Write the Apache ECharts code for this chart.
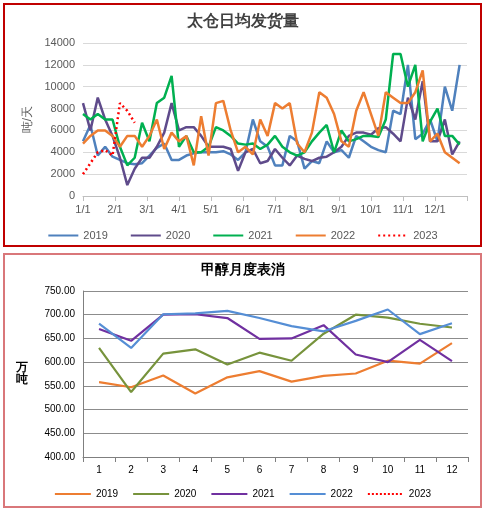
<!DOCTYPE html>
<html><head><meta charset="utf-8">
<script src="https://cdn.jsdelivr.net/npm/echarts@6/dist/echarts.min.js"></script>
<style>
body{margin:0;background:#fff;width:486px;height:513px;position:relative;font-family:"Noto Sans CJK SC",sans-serif}
#c1{position:absolute;left:3px;top:3px;width:475px;height:240px;border:2px solid #c00000}
#c2{position:absolute;left:3px;top:253px;width:475px;height:251px;border:2px solid #d9777a}
</style></head><body>
<div id="c1"></div><div id="c2"></div>
<script>
const years = ['2019','2020','2021','2022','2023'];
const monthTicks = ['1/1','2/1','3/1','4/1','5/1','6/1','7/1','8/1','9/1','10/1','11/1','12/1'];
const w2019 = [5000,6500,3700,4500,3600,3300,3000,2900,3000,3700,4400,4800,3300,3300,3700,3900,4000,4000,4000,4100,3800,3300,4000,7000,5000,4500,2800,2800,5500,5000,2500,3200,3000,5000,4000,4200,3500,5500,5000,4500,4200,4000,7800,7500,12000,5200,5700,7000,5000,10000,7800,12000];
const w2020 = [8500,6000,9000,7000,5500,3500,1000,2500,3500,3500,4500,5800,8500,6000,6300,6300,5500,4500,4500,4500,4300,2300,4000,4300,3000,3200,4300,3500,2800,3700,3400,3200,3500,3600,4000,4500,5500,5800,5800,5600,6200,6300,5700,5000,9000,7000,10500,5000,5000,7000,3800,5000];
const w2021 = [7500,7000,7500,7000,7000,4500,2800,3500,6700,5000,8500,9000,11000,4500,5500,4000,4000,4500,6300,6000,5500,4800,4700,4800,4300,4700,5500,4500,4000,3700,4000,5000,5800,6500,4000,6000,5000,5200,5500,5500,5400,7000,13000,13000,10000,12000,5000,6800,8000,5500,5500,4700];
const w2022 = [4800,5500,6000,6000,5500,4500,5500,5500,4500,5500,7000,4300,5800,5000,5500,2800,7300,3700,8500,8700,6000,4000,4500,3800,7000,5500,8500,8000,8500,4800,4000,5800,9500,9000,7500,5000,4500,7800,9500,7500,5500,9500,9000,8500,8500,9500,11500,5000,5700,4000,3500,3000];
const w2023 = [2000,3000,4000,4200,3700,8500,7800,6700];
const months = ['1','2','3','4','5','6','7','8','9','10','11','12'];
const m2019 = [558,547,572,534,568,581,559,571,576,603,597,640];
const m2020 = [630,537,618,627,595,620,603,660,700,694,681,673];
const m2021 = [670,645,700,701,693,649,650,678,616,600,647,602];
const m2022 = [681,630,701,703,708,693,676,665,687,711,659,682];
const m2023 = [];

const step = 52/12;
const toXY = arr => arr.map((v,i)=>[i,v]);
const topColors = ['#4f81bd','#5f4b8b','#00b050','#ed7d31','#ff0000'];
const topData = [w2019,w2020,w2021,w2022,w2023];
const c1 = echarts.init(document.getElementById('c1'));
c1.setOption({
  animation:false,
  title:{text:'太仓日均发货量',left:'center',top:4,textStyle:{fontSize:16,fontWeight:'bold',color:'#404040'}},
  legend:{top:220,left:'center',itemWidth:30,itemHeight:10,itemGap:22,itemStyle:{opacity:0},textStyle:{color:'#595959',fontSize:11},data:years},
  grid:{left:78,right:13,top:38,bottom:49},
  xAxis:{type:'value',min:0,max:52,interval:step,
    axisLine:{lineStyle:{color:'#bfbfbf'}},axisTick:{show:true,lineStyle:{color:'#bfbfbf'}},splitLine:{show:false},
    axisLabel:{color:'#595959',fontSize:11,formatter:v=>{const k=Math.round(v/step);return k<12?monthTicks[k]:'';}}},
  yAxis:{type:'value',min:0,max:14000,interval:2000,name:'吨/天',nameLocation:'middle',nameGap:45,nameRotate:90,
    nameTextStyle:{color:'#595959',fontSize:12},
    axisLabel:{color:'#595959',fontSize:11,formatter:v=>String(v)},axisLine:{show:false},axisTick:{show:false},splitLine:{lineStyle:{color:'#d9d9d9'}}},
  series:years.map((n,i)=>({name:n,type:'line',data:toXY(topData[i]),symbol:'none',color:topColors[i],
    lineStyle:{width:2.5,type:i===4?[2,3]:'solid',color:topColors[i]}}))
});

const botColors = ['#ed7d31','#77933c','#7030a0','#558ed5','#ff0000'];
const botData = [m2019,m2020,m2021,m2022,m2023];
const c2 = echarts.init(document.getElementById('c2'));
c2.setOption({
  animation:false,
  title:{text:'甲醇月度表消',left:'center',top:3,textStyle:{fontSize:14,fontWeight:'bold',color:'#000'}},
  legend:{top:229,left:'center',itemWidth:36,itemHeight:10,itemGap:14,itemStyle:{opacity:0},textStyle:{color:'#000',fontSize:10},data:years},
  grid:{left:78,right:12,top:36,bottom:49},
  xAxis:{type:'category',data:months,boundaryGap:true,
    axisLine:{lineStyle:{color:'#7f7f7f'}},axisTick:{show:true,lineStyle:{color:'#7f7f7f'}},
    axisLabel:{color:'#000',fontSize:10}},
  yAxis:{type:'value',min:400,max:750,interval:50,name:'万\n吨',nameLocation:'middle',nameGap:55,nameRotate:0,
    nameTextStyle:{color:'#000',fontSize:12,fontWeight:'bold'},
    axisLabel:{color:'#000',fontSize:10,formatter:v=>v.toFixed(2)},
    axisLine:{show:true,lineStyle:{color:'#7f7f7f'}},axisTick:{show:false},splitLine:{lineStyle:{color:'#8c8c8c'}}},
  series:years.map((n,i)=>({name:n,type:'line',data:botData[i],symbol:'none',color:botColors[i],
    lineStyle:{width:2.2,type:i===4?[2,2]:'solid',color:botColors[i]}}))
});
</script></body></html>
